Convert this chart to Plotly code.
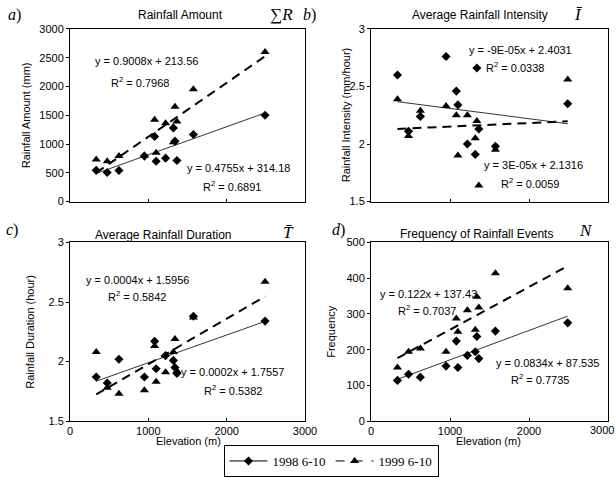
import numpy as np
import plotly.graph_objects as go

# ---------------- data ----------------
elevation = [335, 475, 625, 950, 1080, 1100, 1220, 1320, 1340, 1365, 1575, 2490]

amount_1998 = [543, 505, 540, 790, 1130, 700, 755, 1280, 1050, 715, 1165, 1500]
amount_1999 = [730, 700, 790, 800, 1420, 850, 1360, 1030, 1650, 1390, 1950, 2600]

intensity_1998 = [2.60, 2.11, 2.24, 2.76, 2.46, 2.34, 2.00, 1.91, 2.66, 2.13, 1.98, 2.35]
intensity_1999 = [2.39, 2.07, 2.29, 2.33, 2.25, 1.90, 2.25, 2.05, 2.20, 1.64, 1.95, 2.56]

duration_1998 = [1.87, 1.82, 2.02, 1.87, 2.17, 1.94, 2.05, 2.01, 1.95, 1.90, 2.38, 2.34]
duration_1999 = [2.08, 1.78, 1.73, 1.76, 2.13, 1.83, 1.91, 2.08, 2.19, 1.92, 2.37, 2.67]

frequency_1998 = [114, 131, 123, 154, 224, 150, 184, 194, 237, 175, 252, 275]
frequency_1999 = [150, 194, 203, 194, 287, 250, 310, 256, 348, 318, 414, 372]

series_names = ["1998 6-10", "1999 6-10"]

panel_titles = ["Rainfall Amount", "Average Rainfall Intensity",
                "Average Rainfall Duration", "Frequency of Rainfall Events"]
panel_symbols = ["\u2211<i>R</i>", "<i>\u012a</i>", "<i>T\u0304</i>", "<i>N</i>"]
panel_letters = ["<i>a</i>)", "<i>b</i>)", "<i>c</i>)", "<i>d</i>)"]
y_titles = ["Rainfall Amount (mm)", "Rainfall Intensity (mm/hour)",
            "Rainfall Duration (hour)", "Frequency"]
x_title = "Elevation (m)"

eq_1998 = ["y = 0.4755x + 314.18", "y = 3E-05x + 2.1316", "y = 0.0002x + 1.7557", "y = 0.0834x + 87.535"]
r2_1998 = ["R<sup>2</sup> = 0.6891", "R<sup>2</sup> = 0.0059", "R<sup>2</sup> = 0.5382", "R<sup>2</sup> = 0.7735"]
eq_1999 = ["y = 0.9008x + 213.56", "y = -9E-05x + 2.4031", "y = 0.0004x + 1.5956", "y = 0.122x + 137.43"]
r2_1999 = ["R<sup>2</sup> = 0.7968", "R<sup>2</sup> = 0.0338", "R<sup>2</sup> = 0.5842", "R<sup>2</sup> = 0.7037"]

y_ranges = [[0, 3000], [1.5, 3], [1.5, 3], [0, 500]]
y_dticks = [500, 0.5, 0.5, 100]
x_range = [0, 3000]
x_tickvals = [0, 1000, 2000]
x_last_tick = 3000

data_1998 = [amount_1998, intensity_1998, duration_1998, frequency_1998]
data_1999 = [amount_1999, intensity_1999, duration_1999, frequency_1999]

# ---------------- layout geometry (pixels) ----------------
W, H = 616, 477
boxes = [  # left, right, top, bottom
    (70, 305, 29, 202),
    (371, 608, 29, 202),
    (70, 305, 243, 422),
    (371, 608, 243, 422),
]

def fx(px):
    return px / W

def fy(py):
    return 1 - py / H

fig = go.Figure()
FONT = "Liberation Sans, Arial, sans-serif"
SERIF = "Liberation Serif, Times New Roman, serif"
FS = 11

layout = dict(
    width=W, height=H,
    margin=dict(l=0, r=0, t=0, b=0, pad=0),
    paper_bgcolor="white", plot_bgcolor="white",
    showlegend=True,
    font=dict(family=FONT, size=FS, color="black"),
)

annotations = []

def ann(text, px, py, size=FS, family=FONT, **kw):
    d = dict(text=text, x=fx(px), y=fy(py), xref="paper", yref="paper", showarrow=False,
             xanchor="center", yanchor="middle", font=dict(size=size, family=family, color="black"))
    d.update(kw)
    annotations.append(d)

ex = np.array(elevation, dtype=float)
xline = np.array([ex.min(), ex.max()])

for i in range(4):
    l, r, t, b = boxes[i]
    sx = "" if i == 0 else str(i + 1)
    xa, ya = "x" + sx, "y" + sx
    tv = x_tickvals + [x_last_tick] if i != 3 else x_tickvals
    layout["xaxis" + sx] = dict(
        domain=[fx(l), fx(r)], range=x_range, tickvals=tv, anchor=ya,
        showline=True, linecolor="black", linewidth=1, mirror=True,
        ticks="inside", ticklen=3, tickcolor="black", showgrid=False, zeroline=False,
        showticklabels=(i >= 2), tickfont=dict(size=FS, family=FONT), automargin=False,
    )
    layout["yaxis" + sx] = dict(
        domain=[fy(b), fy(t)], range=y_ranges[i], dtick=y_dticks[i], anchor=xa,
        showline=True, linecolor="black", linewidth=1, mirror=True,
        ticks="outside", ticklen=3, tickcolor="black", showgrid=False, zeroline=False,
        tickfont=dict(size=FS, family=FONT), automargin=False,
    )

    y98 = np.array(data_1998[i], dtype=float)
    y99 = np.array(data_1999[i], dtype=float)
    c98 = np.polyfit(ex, y98, 1)
    c99 = np.polyfit(ex, y99, 1)

    fig.add_trace(go.Scatter(x=xline, y=np.polyval(c98, xline), mode="lines",
                             line=dict(color="#333333", width=1), xaxis=xa, yaxis=ya,
                             showlegend=False, hoverinfo="skip"))
    fig.add_trace(go.Scatter(x=xline, y=np.polyval(c99, xline), mode="lines",
                             line=dict(color="black", width=2, dash="9px,6px"), xaxis=xa, yaxis=ya,
                             showlegend=False, hoverinfo="skip"))
    fig.add_trace(go.Scatter(x=elevation, y=data_1998[i], mode="markers",
                             marker=dict(symbol="diamond", size=7, color="black"),
                             xaxis=xa, yaxis=ya, showlegend=False))
    fig.add_trace(go.Scatter(x=elevation, y=data_1999[i], mode="markers",
                             marker=dict(symbol="triangle-up", size=8, color="black"),
                             xaxis=xa, yaxis=ya, showlegend=False))

    ytitle_x = [26, 346, 30, 331][i]
    ann(y_titles[i], ytitle_x, (t + b) / 2, textangle=-90)

# right-most x tick label of panel d sits at the page edge
annotations.append(dict(text=str(x_last_tick), x=1, xref="paper", y=fy(431), yref="paper",
                        showarrow=False, xanchor="right", yanchor="middle",
                        font=dict(size=FS, family=FONT, color="black")))

title_pos = [(180, 15), (480, 15), (163, 235), (476, 234)]
sym_pos = [(281, 15), (578, 15), (288, 233), (586, 231)]
letter_pos = [(14, 15), (309, 15), (12, 230), (338, 230)]
for i in range(4):
    ann(panel_titles[i], *title_pos[i], size=12)
    ann(panel_symbols[i], *sym_pos[i], size=17, family=SERIF)
    ann(panel_letters[i], *letter_pos[i], size=16, family=SERIF)

eq99_pos = [(146, 61), (520, 50), (137, 281), (428, 295)]
r99_pos = [(140, 82), (515, 67), (137, 297), (427, 311)]
eq98_pos = [(238, 168), (533, 165), (233, 373), (547, 364)]
r98_pos = [(232, 186), (530, 183), (233, 391), (540, 380)]
for i in range(4):
    ann(eq_1999[i], *eq99_pos[i])
    ann(r2_1999[i], *r99_pos[i])
    ann(eq_1998[i], *eq98_pos[i])
    ann(r2_1998[i], *r98_pos[i])

for xc in (188, 489):
    ann(x_title, xc, 442)

fig.add_trace(go.Scatter(x=[None], y=[None], mode="lines+markers", name=series_names[0],
                         line=dict(color="black", width=1),
                         marker=dict(symbol="diamond", size=7, color="black")))
fig.add_trace(go.Scatter(x=[None], y=[None], mode="lines+markers", name=series_names[1],
                         line=dict(color="black", width=1, dash="dash"),
                         marker=dict(symbol="triangle-up", size=8, color="black")))

layout["legend"] = dict(orientation="h", x=fx(331), y=fy(462), xanchor="center", yanchor="middle",
                        bordercolor="black", borderwidth=1, bgcolor="white",
                        font=dict(family=SERIF, size=13), itemwidth=38, tracegroupgap=0)
layout["annotations"] = annotations
fig.update_layout(**layout)

fig.write_html("out.html", config={"displayModeBar": False},
               post_script="document.body.style.margin='0';document.body.style.padding='0';")
